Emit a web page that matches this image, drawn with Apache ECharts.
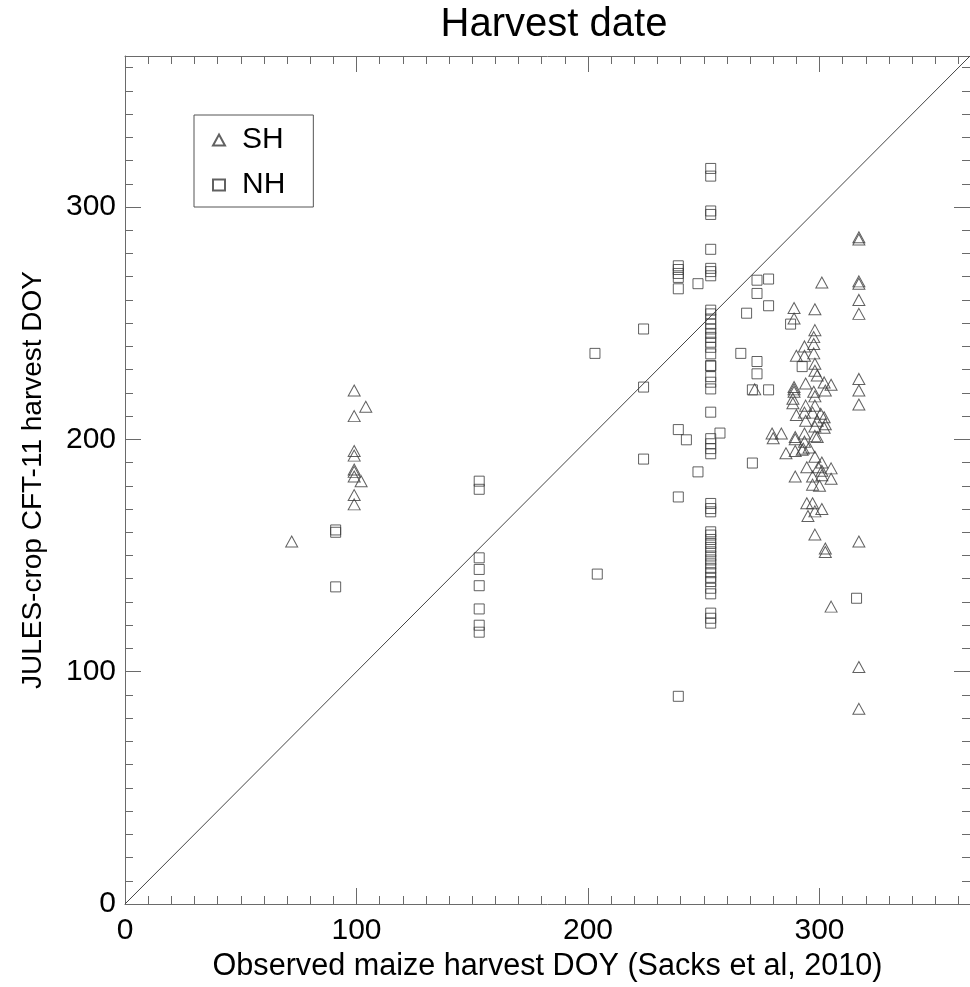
<!DOCTYPE html>
<html>
<head>
<meta charset="utf-8">
<title>Harvest date</title>
<script src="https://cdn.jsdelivr.net/npm/echarts@6/dist/echarts.min.js"></script>
<style>
  html, body { margin: 0; padding: 0; background: #ffffff; }
  #chart { width: 970px; height: 987px; }
</style>
</head>
<body>
<div id="chart"></div>
<script>
// Southern hemisphere points: observed harvest DOY vs simulated harvest DOY
const shObserved = [
  72,
  99, 104, 99, 99, 99, 99, 99, 99, 102, 99, 99,
  317, 317, 317, 317, 317, 317, 317, 317, 317, 317, 317, 317,
  301, 289, 298, 289, 298, 297.5, 293.5, 297.5, 290, 293.5, 297.5, 298, 298, 299,
  294, 302, 305, 302.5, 289, 289, 289, 288.5, 288.5, 297.5, 298, 294, 298, 290,
  293.5, 294, 297, 300.5, 302, 299, 302.5, 298, 302, 298, 299, 279.5, 280, 283.5,
  289.5, 289.5, 293.5, 293.5, 293, 295.5, 285.5, 289.5, 292.5, 298, 301, 294.5,
  299.5, 301, 305, 289.5, 297, 301, 305, 297, 300, 294.5, 297, 301, 295, 298,
  298, 302.5, 302.5, 272, 305
];
const shModel = [
  156,
  221, 214, 210, 195, 193, 187, 186, 184, 182, 176, 172,
  287, 286, 268, 267, 260, 254, 226, 221, 215, 156, 102, 84,
  267.5, 256.5, 256, 252, 247, 244, 240, 241, 236, 236, 237, 232.5, 229.5, 227.5,
  224, 224.5, 223.5, 221, 222.5, 221.5, 220.5, 217.5, 215.5, 220.5, 218.5, 214.5, 214.5, 210.5,
  211.5, 208, 211.5, 211, 209.5, 208, 206.5, 205.5, 205, 201.5, 201, 202.5, 200.5, 202.5,
  201, 200, 202.5, 199, 196, 196.5, 194, 195, 195.5, 192.5, 190, 188,
  188, 186.5, 187.5, 184, 184, 184.5, 183, 180.5, 180, 172.5, 172.5, 170, 167, 169,
  159, 153, 151.5, 221.5, 128
];

// Northern hemisphere points
const nhObserved = [
  91, 91, 91,
  153, 153, 153, 153, 153, 153, 153, 153,
  203, 204,
  224, 224, 224,
  239, 239, 239, 239, 239, 247.5, 239, 242.5, 247.5, 239, 239, 257,
  266, 273, 273, 271, 278, 271, 278, 273, 273, 278, 268.5, 287.5, 292.5, 316,
  253, 253, 253, 253, 253, 253, 253, 253, 253, 253, 253, 253, 253, 253, 253, 253,
  253, 253, 253, 253, 253, 253, 253, 253, 253, 253, 253, 253, 253, 253, 253, 253,
  253, 253, 253, 253, 253, 253, 253, 253, 253, 253, 253, 253, 253, 253, 253, 253,
  253
];
const nhModel = [
  160, 161, 136.5,
  182, 178.5, 149, 144, 137, 127, 120, 117,
  237, 142,
  247.5, 222.5, 191.5,
  274.7, 273.1, 271.4, 269.7, 264.8, 267, 204.2, 199.8, 186, 175.2, 89.4, 202.7,
  237, 233.5, 228.2, 221.3, 221.3, 189.8, 269, 268.5, 262.8, 257.5, 254.3, 249.6, 231.3, 131.6,
  316.6, 313.3, 298.3, 296.8, 281.8, 273.6, 272.2, 270.4, 255.6, 254, 251.8, 249.6, 247.5, 245.6, 243.9, 241.8,
  239.6, 236.8, 231.8, 231.5, 227, 224.6, 221.7, 211.7, 200.3, 198.1, 196, 193.8, 172.4, 170.2, 168.8, 160.2,
  158.8, 156.9, 155.2, 153.5, 151.6, 149.8, 148.1, 146.4, 144.5, 142.6, 140.6, 138.8, 135.9, 133.5, 125.2, 123,
  120.9
];

// 1:1 reference line
const oneToOne = [[0, 0], [365, 365]];

const axisMin = 0;
const axisMax = 365;
const majorStep = 100;

const zip = (xs, ys) => xs.map((x, i) => [x, ys[i]]);

const FONT = 'Liberation Sans, Arial, Helvetica, sans-serif';
const AXIS_GRAY = '#6a6a6a';
const MARK = '#3a3a3a';

function makeAxis(position, withLabels, name, nameSize) {
  const ax = {
    type: 'value',
    position: position,
    min: axisMin,
    max: axisMax,
    interval: majorStep,
    splitLine: { show: false },
    axisLine: { show: true, onZero: false, lineStyle: { color: AXIS_GRAY, width: 1 } },
    axisTick: { show: true, inside: true, length: 16, lineStyle: { color: AXIS_GRAY, width: 1 } },
    minorTick: { show: true, splitNumber: 10, length: 8, lineStyle: { color: AXIS_GRAY, width: 1 } },
    axisLabel: {
      show: withLabels,
      showMaxLabel: false,
      color: '#000',
      fontFamily: FONT,
      fontSize: 30,
      margin: 12
    }
  };
  if (name) {
    ax.name = name;
    ax.nameLocation = 'middle';
    ax.nameTextStyle = { color: '#000', fontFamily: FONT, fontSize: nameSize };
  }
  return ax;
}

const xBottom = makeAxis('bottom', true, 'Observed maize harvest DOY (Sacks et al, 2010)', 30.6);
xBottom.nameGap = 46;
const xTop = makeAxis('top', false);
const yLeft = makeAxis('left', true, 'JULES-crop CFT-11 harvest DOY', 28);
yLeft.nameGap = 78;
yLeft.axisLabel.margin = 9;
const yRight = makeAxis('right', false);

const chart = echarts.init(document.getElementById('chart'), null, { renderer: 'canvas' });

chart.setOption({
  animation: false,
  backgroundColor: '#ffffff',
  title: {
    text: 'Harvest date',
    left: 549,
    textAlign: 'center',
    top: 0,
    textStyle: { color: '#000', fontFamily: FONT, fontSize: 40, fontWeight: 'normal' }
  },
  legend: {
    orient: 'vertical',
    left: 194,
    top: 115,
    padding: [10, 28, 7, 18],
    itemGap: 15,
    itemWidth: 12,
    itemHeight: 11,
    borderColor: '#555',
    borderWidth: 1,
    data: ['SH', 'NH'],
    textStyle: { color: '#000', fontFamily: FONT, fontSize: 30, padding: [0, 0, 0, 12] }
  },
  grid: { left: 125, top: 56, width: 848, height: 848, containLabel: false },
  xAxis: [xBottom, xTop],
  yAxis: [yLeft, yRight],
  series: [
    {
      name: 'line',
      type: 'line',
      data: oneToOne,
      symbol: 'none',
      silent: true,
      lineStyle: { color: '#444', width: 1 },
      z: 1
    },
    {
      name: 'SH',
      type: 'scatter',
      symbol: 'triangle',
      symbolSize: [12, 11],
      data: zip(shObserved, shModel),
      itemStyle: { color: 'rgba(255,255,255,0)', borderColor: MARK, borderWidth: 1 },
      z: 3
    },
    {
      name: 'NH',
      type: 'scatter',
      symbol: 'rect',
      symbolSize: 10,
      data: zip(nhObserved, nhModel),
      itemStyle: { color: 'rgba(255,255,255,0)', borderColor: MARK, borderWidth: 1 },
      z: 3
    }
  ]
});
</script>
</body>
</html>
